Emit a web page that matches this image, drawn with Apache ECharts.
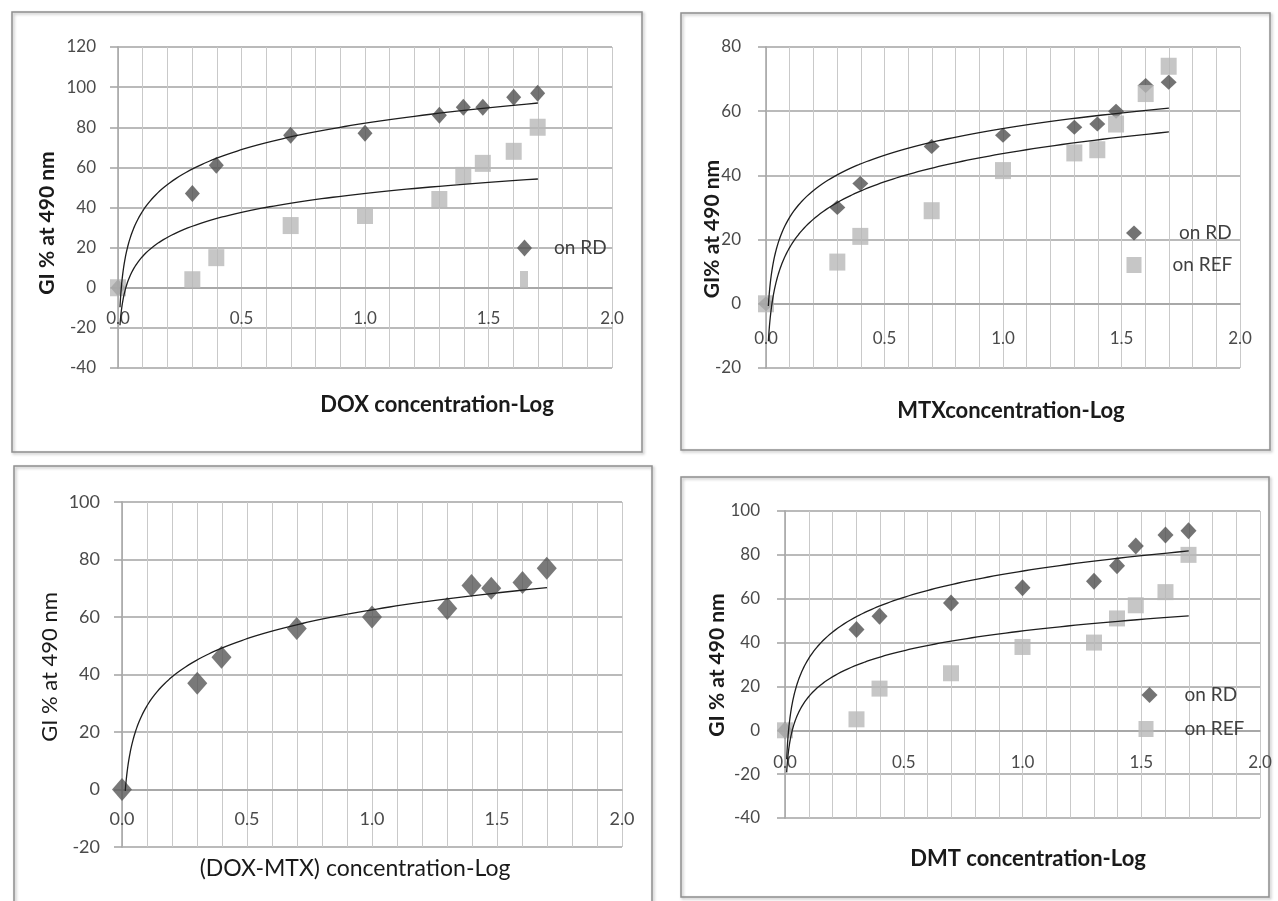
<!DOCTYPE html>
<html>
<head>
<meta charset="utf-8">
<script src="https://cdn.jsdelivr.net/npm/echarts@6/dist/echarts.min.js"></script>
<style>
html, body { margin: 0; padding: 0; background: #fff; }
#chart { width: 1278px; height: 901px; }
</style>
</head>
<body>
<div id="chart"></div>
<script>
// x: log10 of the concentration (1, 2, 2.5, 5, 10, 20, 25, 30, 40, 50)
var logConc = [0, 0.301, 0.398, 0.699, 1.0, 1.301, 1.398, 1.477, 1.602, 1.699];

var doxRD  = [0, 47, 61, 76, 77, 86, 90, 90, 95, 97];
var doxREF = [0, 4, 15, 31, 36, 44, 56, 62, 68, 80];
var mtxRD  = [0, 30, 37.5, 49, 52.5, 55, 56, 60, 68, 69];
var mtxREF = [0, 13, 21, 29, 41.5, 47, 48, 56, 65.5, 74];
var doxMtxRD = [0, 37, 46, 56, 60, 63, 71, 70, 72, 77];
var dmtRD  = [0, 46, 52, 58, 65, 68, 75, 84, 89, 91];
var dmtREF = [0, 5, 19, 26, 38, 40, 51, 57, 63, 80];

// log trendlines: [a, b] in y = a*ln(x) + b
var doxTrendRD = [19, 82];
var doxTrendREF = [13.6, 47];
var mtxTrendRD = [12, 54.6];
var mtxTrendREF = [12.7, 46.8];
var doxMtxTrend = [14.5, 62.5];
var dmtTrendRD = [17.3, 72.6];
var dmtTrendREF = [13, 45.3];

var xTicks = ['0.0', '0.5', '1.0', '1.5', '2.0'];

var FONT = 'Lato, "Open Sans", sans-serif';
var DARK = '#505050', LIGHT = '#b8b8b8';

function pairs(xs, ys) {
  return xs.map(function (x, i) { return [x, ys[i]]; });
}

function trend(coef, x0) {
  var pts = [];
  var n = 200;
  for (var i = 0; i <= n; i++) {
    var x = x0 * Math.pow(1.7 / x0, i / n);
    pts.push([x, coef[0] * Math.log(x) + coef[1]]);
  }
  return pts;
}

var grids = [
  { left: 118, top: 47, width: 494, height: 321 },
  { left: 766, top: 47, width: 474, height: 321 },
  { left: 122, top: 502, width: 500, height: 345 },
  { left: 785, top: 511, width: 475, height: 307 }
];
var yRanges = [[-40, 120], [-20, 80], [-20, 100], [-40, 100]];
var xLabelMargin = [22, 26, 21, 24];
var yLabelMargin = [22, 25, 22, 25];
var tickFont = [17, 17, 18, 17];

function xAxis(i) {
  var r = yRanges[i];
  // Excel draws the x axis across y = 0, labels just below it
  var lift = -grids[i].height * (0 - r[0]) / (r[1] - r[0]);
  return {
    type: 'value', gridIndex: i, min: 0, max: 2, interval: 0.5,
    position: 'bottom', offset: lift,
    axisLine: { onZero: false, lineStyle: { color: '#a3a3a3', width: 1.5 } },
    axisTick: { show: false },
    minorTick: { show: false, splitNumber: 5 },
    splitLine: { show: true, lineStyle: { color: '#c9c9c9', width: 1 } },
    minorSplitLine: { show: true, lineStyle: { color: '#c9c9c9', width: 1 } },
    axisLabel: {
      margin: xLabelMargin[i], fontFamily: FONT, fontSize: tickFont[i], color: '#4a4a4a',
      formatter: function (v) { return xTicks[Math.round(v / 0.5)]; }
    }
  };
}
function yAxis(i) {
  return {
    type: 'value', gridIndex: i, min: yRanges[i][0], max: yRanges[i][1], interval: 20,
    axisLine: { show: true, onZero: false, lineStyle: { color: '#a3a3a3', width: 1.5 } },
    axisTick: { show: true, length: 8, lineStyle: { color: '#a3a3a3', width: 1.5 } },
    splitLine: { show: true, lineStyle: { color: '#a3a3a3', width: 1.5 } },
    axisLabel: { margin: yLabelMargin[i], fontFamily: FONT, fontSize: tickFont[i], color: '#4a4a4a' }
  };
}

function scatter(name, i, ys, symbol, size, color) {
  return {
    type: 'scatter', name: name, xAxisIndex: i, yAxisIndex: i,
    symbol: symbol, symbolSize: size, itemStyle: { color: color },
    data: pairs(logConc, ys), z: 3
  };
}
function trendLine(i, coef, x0) {
  return {
    type: 'line', xAxisIndex: i, yAxisIndex: i, showSymbol: false, symbol: 'none',
    lineStyle: { color: '#1e1e1e', width: 1.3 }, data: trend(coef, x0), z: 4, silent: true
  };
}

function legendItem(left, top, name, icon, w, h, pad, hideText) {
  var l = {
    left: left, top: top, padding: 0, itemWidth: w, itemHeight: h, selectedMode: false,
    data: [{ name: name, icon: icon }],
    textStyle: { fontFamily: FONT, fontSize: 19, color: '#404040', padding: [0, 0, 0, pad] }
  };
  if (hideText) l.formatter = function () { return ''; };
  return l;
}

function frame(x, y, w, h) {
  return {
    type: 'rect', shape: { x: x, y: y, width: w, height: h }, z: -10,
    style: { fill: 'none', stroke: '#8f8f8f', lineWidth: 1.5,
      shadowBlur: 3, shadowOffsetX: 1.5, shadowOffsetY: 1.5, shadowColor: 'rgba(0,0,0,0.3)' }
  };
}
function label(text, x, y, font, rot) {
  return {
    type: 'text', x: x, y: y, rotation: rot || 0, z: 10,
    style: { x: 0, y: 0, text: text, font: font, fill: '#1a1a1a',
      textAlign: 'center', textVerticalAlign: 'middle', align: 'center', verticalAlign: 'middle' }
  };
}

var chart = echarts.init(document.getElementById('chart'), null, { renderer: 'canvas' });
chart.setOption({
  animation: false,
  backgroundColor: '#ffffff',
  grid: grids.map(function (g) { g.outerBoundsMode = 'none'; g.containLabel = false; return g; }),
  xAxis: [0, 1, 2, 3].map(xAxis),
  yAxis: [0, 1, 2, 3].map(yAxis),
  legend: [
    legendItem(517, 238.5, 'on RD', 'diamond', 15, 17, 17),
    legendItem(520, 271, 'on REF', 'rect', 8, 17, 0, true),
    legendItem(1126, 223.5, 'on RD', 'diamond', 16, 15, 32),
    legendItem(1126.5, 255.5, 'on REF', 'rect', 15, 16, 26),
    legendItem(1141.5, 685.5, 'on RD', 'diamond', 16, 16, 22),
    legendItem(1138.5, 719.5, 'on REF', 'rect', 15, 16, 26)
  ],
  graphic: { elements: [
    frame(12, 12, 630, 440),
    frame(681, 13, 589, 437),
    frame(14, 466, 638, 460),
    frame(681, 477, 588, 420),
    label('GI % at 490 nm', 47, 223, 'bold 21px ' + FONT, Math.PI / 2),
    label('GI% at 490 nm', 712, 229, 'bold 21px ' + FONT, Math.PI / 2),
    label('GI % at 490 nm', 50, 667, '22px ' + FONT, Math.PI / 2),
    label('GI % at 490 nm', 717, 665, 'bold 21px ' + FONT, Math.PI / 2),
    label('DOX concentration-Log', 437, 405, 'bold 22px ' + FONT),
    label('MTXconcentration-Log', 1011, 411, 'bold 22px ' + FONT),
    label('(DOX-MTX) concentration-Log', 355, 869, '23px ' + FONT),
    label('DMT concentration-Log', 1028, 859, 'bold 22px ' + FONT)
  ] },
  series: [
    scatter('on RD', 0, doxRD, 'diamond', [15, 17], DARK),
    scatter('on REF', 0, doxREF, 'rect', [16, 17], LIGHT),
    trendLine(0, doxTrendRD, 0.008),
    trendLine(0, doxTrendREF, 0.008),

    scatter('on RD', 1, mtxRD, 'diamond', [16, 15], DARK),
    scatter('on REF', 1, mtxREF, 'rect', [16, 17], LIGHT),
    trendLine(1, mtxTrendRD, 0.01),
    trendLine(1, mtxTrendREF, 0.01),

    scatter('on RD', 2, doxMtxRD, 'diamond', [20, 23], '#575757'),
    trendLine(2, doxMtxTrend, 0.013),

    scatter('on RD', 3, dmtRD, 'diamond', [16, 17], DARK),
    scatter('on REF', 3, dmtREF, 'rect', [16, 16], LIGHT),
    trendLine(3, dmtTrendRD, 0.007),
    trendLine(3, dmtTrendREF, 0.007)
  ]
});
</script>
</body>
</html>
